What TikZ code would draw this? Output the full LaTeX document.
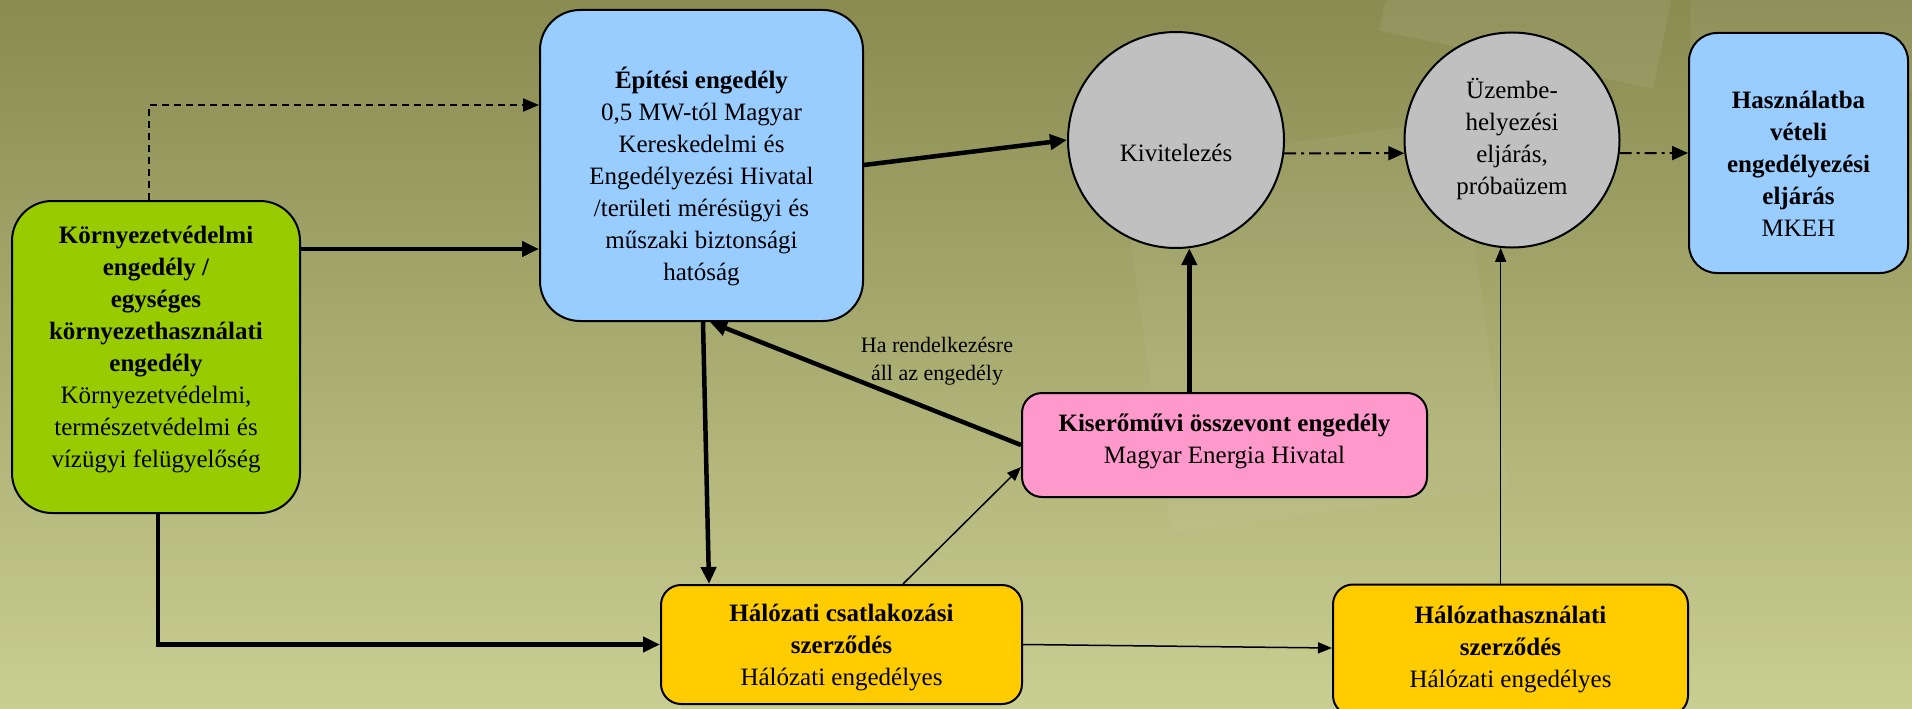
\documentclass[tikz,border=0pt]{standalone}
\usepackage{fontspec}
\setmainfont{Liberation Serif}
\usetikzlibrary{arrows.meta,shapes.geometric}
\definecolor{bgtop}{RGB}{137,139,80}
\definecolor{bgbot}{RGB}{201,206,146}
\definecolor{cgreen}{RGB}{153,204,0}
\definecolor{cblue}{RGB}{153,204,255}
\definecolor{cyellow}{RGB}{255,204,0}
\definecolor{cpink}{RGB}{255,153,204}
\definecolor{cgray}{RGB}{192,192,192}
\tikzset{
  boxbase/.style={draw=black, line width=2pt, inner sep=0pt},
  greenbox/.style={boxbase, fill=cgreen, rounded corners=40pt},
  bluebox/.style={boxbase, fill=cblue, rounded corners=40pt},
  blueboxsm/.style={boxbase, fill=cblue, rounded corners=28pt},
  yellowbox/.style={boxbase, fill=cyellow, rounded corners=20pt},
  pinkbox/.style={boxbase, fill=cpink, rounded corners=20pt},
  graycirc/.style={boxbase, fill=cgray, circle},
  txt/.style={align=center, inner sep=0pt, font=\fontsize{25}{32}\selectfont},
  lbl/.style={align=center, inner sep=0pt, font=\fontsize{22}{28}\selectfont},
  thickarr/.style={line width=4.5pt, -{Triangle[length=17pt,width=15pt]}},
  thinarr/.style={line width=1.5pt, -{Triangle[length=14pt,width=11pt]}},
  dasharr/.style={line width=2pt, dash pattern=on 7pt off 5pt, -{Triangle[length=16pt,width=13pt]}},
  dotdasharr/.style={line width=2pt, dash pattern=on 12pt off 5pt on 3pt off 5pt, -{Triangle[length=16pt,width=14pt]}},
}
\begin{document}
\begin{tikzpicture}[x=1pt,y=-1pt]
\useasboundingbox (0,0) rectangle (1912,709);
\fill[top color=bgtop, bottom color=bgbot] (0,0) rectangle (1912,709);
% faint background shapes
\fill[white, opacity=0.07, rotate around={-12:(1520,40)}] (1380,-60) rectangle (1660,60);
\fill[white, opacity=0.06] (1690,0) rectangle (1912,90);
\fill[white, opacity=0.04, rotate around={8:(1250,300)}] (1140,150) rectangle (1480,520);

% boxes
\node[greenbox, minimum width=288pt, minimum height=312pt] (koz) at (156,357) {};
\node[bluebox, minimum width=323pt, minimum height=311pt] (epit) at (701.5,165.5) {};
\node[graycirc, minimum size=216pt] (kiv) at (1176,140) {};
\node[graycirc, minimum size=215pt] (uzem) at (1512,140) {};
\node[blueboxsm, minimum width=219pt, minimum height=240pt] (hasz) at (1798.5,153) {};
\node[pinkbox, minimum width=405pt, minimum height=104pt] (kis) at (1224.5,445) {};
\node[yellowbox, minimum width=361pt, minimum height=119pt] (hal1) at (841.5,644.5) {};
\node[yellowbox, minimum width=355pt, minimum height=131pt] (hal2) at (1510.5,650) {};

% texts
\node[txt] (tkoz) at (156,350) {\textbf{Környezetvédelmi}\\\textbf{engedély /}\\\textbf{egységes}\\\textbf{környezethasználati}\\\textbf{engedély}\\Környezetvédelmi,\\természetvédelmi és\\vízügyi felügyelőség};
\node[txt] (tepit) at (701.5,176) {\textbf{Építési engedély}\\0,5 MW-tól Magyar\\Kereskedelmi és\\Engedélyezési Hivatal\\/területi mérésügyi és\\műszaki biztonsági\\hatóság};
\node[txt] (tkiv) at (1176,153) {Kivitelezés};
\node[txt] (tuzem) at (1512,139) {Üzembe-\\helyezési\\eljárás,\\próbaüzem};
\node[txt] (thasz) at (1798.5,164) {\textbf{Használatba}\\\textbf{vételi}\\\textbf{engedélyezési}\\\textbf{eljárás}\\MKEH};
\node[txt] (tkis) at (1224.5,441) {\textbf{Kiserőművi összevont engedély}\\Magyar Energia Hivatal};
\node[txt] (thal1) at (841.5,648) {\textbf{Hálózati csatlakozási}\\\textbf{szerződés}\\Hálózati engedélyes};
\node[txt] (thal2) at (1510.5,650) {\textbf{Hálózathasználati}\\\textbf{szerződés}\\Hálózati engedélyes};
\node[lbl] (tha) at (937,361) {Ha rendelkezésre\\áll az engedély};

% connectors
\draw[dasharr] ([xshift=-7pt]koz.north) |- (epit.west |- 0,105);
\draw[thickarr] (koz.east |- 0,249) -- (epit.west |- 0,249);
\draw[thickarr] (epit.east |- 0,165) -- (kiv.west);
\draw[dotdasharr] (kiv.-7) -- (uzem.187);
\draw[dotdasharr] (uzem.-7) -- (hasz.west |- 0,153);
\draw[thickarr] (kis.north -| kiv.-83) -- (kiv.-83);
\draw[thinarr] (hal2.north -| uzem.-96) -- (uzem.-96);
\draw[thickarr] (kis.west) -- ([xshift=8.5pt]epit.south);
\draw[thickarr] ([xshift=1.5pt]epit.south) -- (hal1.north -| 709,0);
\draw[thinarr] (hal1.north -| 903,0) -- (kis.west |- 0,467);
\draw[thinarr] (hal1.east) -- (hal2.west |- 0,648);
\draw[thickarr] (koz.south -| 158,0) |- (hal1.west);
\end{tikzpicture}
\end{document}
